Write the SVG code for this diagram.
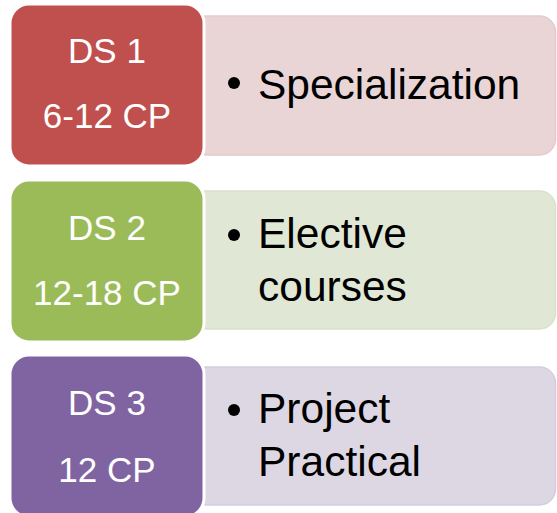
<svg xmlns="http://www.w3.org/2000/svg" width="557" height="513" viewBox="0 0 557 513">
<style>
.lt{font-family:"Liberation Sans",Arial,sans-serif;font-size:35px;fill:#fff;text-anchor:middle}
.rt{font-family:"Liberation Sans",Arial,sans-serif;font-size:42.5px;fill:#000}
.bg{stroke-width:1.5}
.fg{stroke:#fff;stroke-width:3}
</style>
<rect width="557" height="513" fill="#fff"/>
<g id="row1">
<rect class="bg" x="190" y="16" width="365.5" height="139" rx="16" fill="#EAD5D6" stroke="#E3CBCC"/>
<rect class="fg" x="10" y="4" width="194" height="162" rx="19" fill="#C0504D"/>
<text class="lt" x="107" y="63">DS 1</text>
<text class="lt" x="107" y="128">6-12 CP</text>
<circle cx="234" cy="83" r="6" fill="#000"/>
<text class="rt" x="258" y="99">Specialization</text>
</g>
<g id="row2">
<rect class="bg" x="190" y="191" width="365.5" height="138" rx="16" fill="#E0E8D5" stroke="#D8E1CB"/>
<rect class="fg" x="10" y="180" width="194" height="162" rx="19" fill="#9BBB59"/>
<text class="lt" x="107" y="240">DS 2</text>
<text class="lt" x="107" y="305">12-18 CP</text>
<circle cx="234" cy="235" r="6" fill="#000"/>
<text class="rt" x="258" y="248">Elective</text>
<text class="rt" x="258" y="301">courses</text>
</g>
<g id="row3">
<rect class="bg" x="190" y="367" width="365.5" height="138" rx="16" fill="#DCD7E3" stroke="#D3CDDC"/>
<rect class="fg" x="10" y="355" width="194" height="162" rx="19" fill="#8064A2"/>
<text class="lt" x="107" y="415">DS 3</text>
<text class="lt" x="107" y="482">12 CP</text>
<circle cx="234" cy="410" r="6" fill="#000"/>
<text class="rt" x="258" y="423">Project</text>
<text class="rt" x="258" y="476">Practical</text>
</g>
<g id="connectors"/>
</svg>
